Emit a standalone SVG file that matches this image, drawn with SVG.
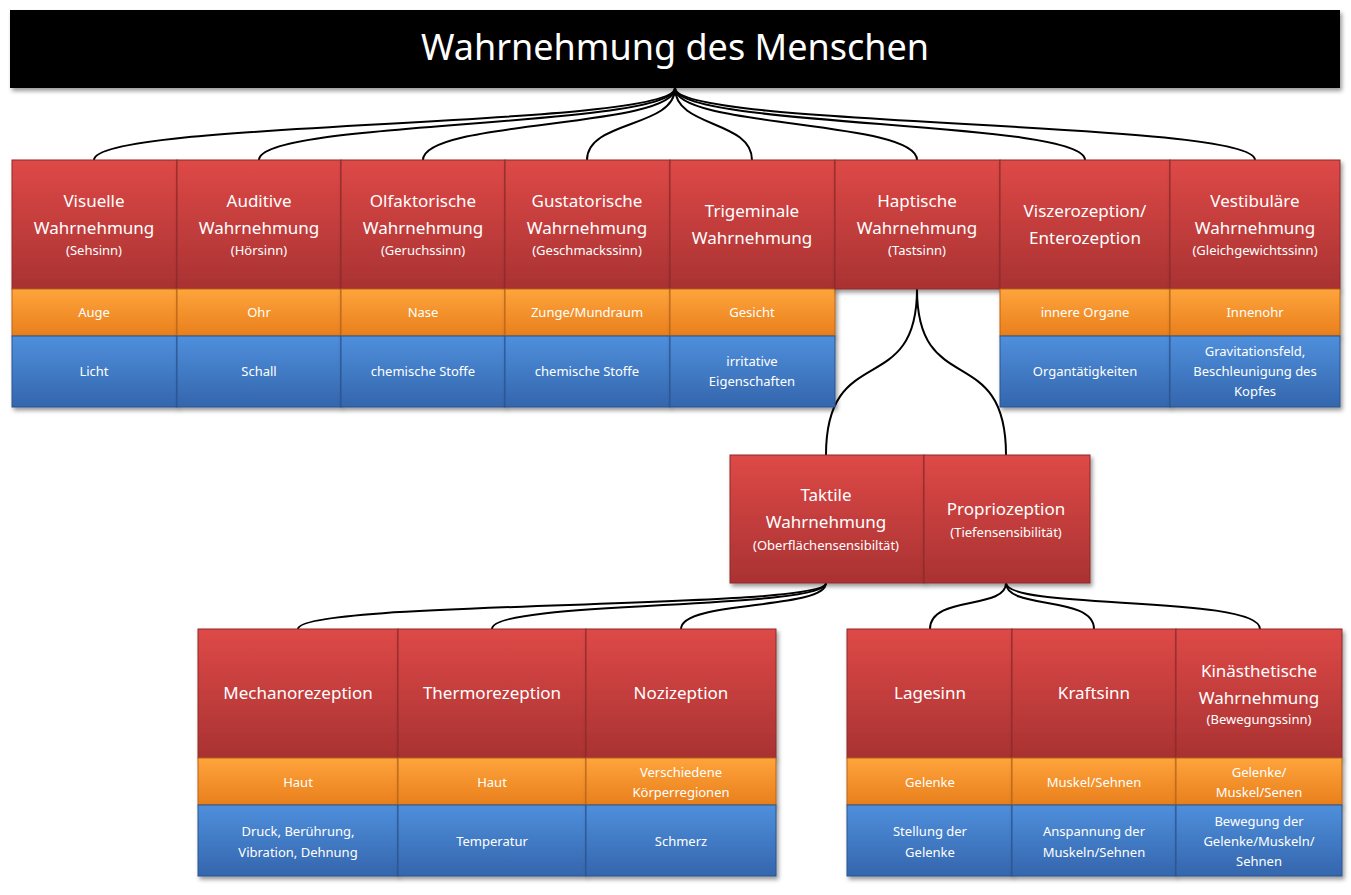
<svg xmlns="http://www.w3.org/2000/svg" width="1351" height="895" viewBox="0 0 1351 895">
<defs>
<linearGradient id="gr" x1="0" y1="0" x2="0" y2="1"><stop offset="0" stop-color="#de4947"/><stop offset="1" stop-color="#a93232"/></linearGradient>
<linearGradient id="go" x1="0" y1="0" x2="0" y2="1"><stop offset="0" stop-color="#ffa43c"/><stop offset="1" stop-color="#e87f1c"/></linearGradient>
<linearGradient id="gb" x1="0" y1="0" x2="0" y2="1"><stop offset="0" stop-color="#4f8fdc"/><stop offset="1" stop-color="#3466ad"/></linearGradient>
<filter id="sh" x="-5%" y="-5%" width="115%" height="120%"><feDropShadow dx="2" dy="3" stdDeviation="2" flood-color="#000" flood-opacity="0.4"/></filter>
</defs>
<style>
.r{fill:url(#gr);stroke:#8e2a2a;stroke-width:1;filter:url(#sh)}
.o{fill:url(#go);stroke:#b8651a;stroke-width:1;filter:url(#sh)}
.b{fill:url(#gb);stroke:#2a5490;stroke-width:1;filter:url(#sh)}
text{font-family:"Noto Sans","Open Sans",sans-serif;fill:#fff;text-anchor:middle}
.t{font-size:17px}
.s{font-size:13px}
.c{fill:none;stroke:#000;stroke-width:2}
</style>
<rect x="0" y="0" width="1351" height="895" fill="#fff"/>
<g id="title"><rect x="10" y="10" width="1330" height="78" fill="#000" filter="url(#sh)"/><text x="675" y="60" style="font-size:36px">Wahrnehmung des Menschen</text></g>
<g id="connectors">
<path class="c" d="M675,88 C675,128 94,120 94,160"/>
<path class="c" d="M675,88 C675,128 259,120 259,160"/>
<path class="c" d="M675,88 C675,128 423,120 423,160"/>
<path class="c" d="M675,88 C675,128 587,120 587,160"/>
<path class="c" d="M675,88 C675,128 752,120 752,160"/>
<path class="c" d="M675,88 C675,128 917,120 917,160"/>
<path class="c" d="M675,88 C675,128 1085,120 1085,160"/>
<path class="c" d="M675,88 C675,128 1255,120 1255,160"/>
<path class="c" d="M917,289 C917,400 826,340 826,455"/>
<path class="c" d="M917,289 C917,400 1006,340 1006,455"/>
<path class="c" d="M826,583 C826,610 298,600 298,629"/>
<path class="c" d="M826,583 C826,610 492,600 492,629"/>
<path class="c" d="M826,583 C826,610 681,600 681,629"/>
<path class="c" d="M1006,583 C1006,610 930,595 930,629"/>
<path class="c" d="M1006,583 C1006,610 1094,595 1094,629"/>
<path class="c" d="M1006,583 C1006,610 1260,595 1260,629"/>
</g>
<g id="n1"><rect class="r" x="12" y="160" width="165" height="129"/><text class="t" x="94" y="207">Visuelle</text><text class="t" x="94" y="234">Wahrnehmung</text><text class="s" x="94" y="255">(Sehsinn)</text><rect class="o" x="12" y="289" width="165" height="47"/><text class="s" x="94" y="317">Auge</text><rect class="b" x="12" y="336" width="165" height="71"/><text class="s" x="94" y="376">Licht</text></g>
<g id="n2"><rect class="r" x="177" y="160" width="164" height="129"/><text class="t" x="259" y="207">Auditive</text><text class="t" x="259" y="234">Wahrnehmung</text><text class="s" x="259" y="255">(Hörsinn)</text><rect class="o" x="177" y="289" width="164" height="47"/><text class="s" x="259" y="317">Ohr</text><rect class="b" x="177" y="336" width="164" height="71"/><text class="s" x="259" y="376">Schall</text></g>
<g id="n3"><rect class="r" x="341" y="160" width="164" height="129"/><text class="t" x="423" y="207">Olfaktorische</text><text class="t" x="423" y="234">Wahrnehmung</text><text class="s" x="423" y="255">(Geruchssinn)</text><rect class="o" x="341" y="289" width="164" height="47"/><text class="s" x="423" y="317">Nase</text><rect class="b" x="341" y="336" width="164" height="71"/><text class="s" x="423" y="376">chemische Stoffe</text></g>
<g id="n4"><rect class="r" x="505" y="160" width="165" height="129"/><text class="t" x="587" y="207">Gustatorische</text><text class="t" x="587" y="234">Wahrnehmung</text><text class="s" x="587" y="255">(Geschmackssinn)</text><rect class="o" x="505" y="289" width="165" height="47"/><text class="s" x="587" y="317">Zunge/Mundraum</text><rect class="b" x="505" y="336" width="165" height="71"/><text class="s" x="587" y="376">chemische Stoffe</text></g>
<g id="n5"><rect class="r" x="670" y="160" width="165" height="129"/><text class="t" x="752" y="217">Trigeminale</text><text class="t" x="752" y="244">Wahrnehmung</text><rect class="o" x="670" y="289" width="165" height="47"/><text class="s" x="752" y="317">Gesicht</text><rect class="b" x="670" y="336" width="165" height="71"/><text class="s" x="752" y="366">irritative</text><text class="s" x="752" y="386">Eigenschaften</text></g>
<g id="n6"><rect class="r" x="835" y="160" width="165" height="129"/><text class="t" x="917" y="207">Haptische</text><text class="t" x="917" y="234">Wahrnehmung</text><text class="s" x="917" y="255">(Tastsinn)</text></g>
<g id="n7"><rect class="r" x="1000" y="160" width="170" height="129"/><text class="t" x="1085" y="217">Viszerozeption/</text><text class="t" x="1085" y="244">Enterozeption</text><rect class="o" x="1000" y="289" width="170" height="47"/><text class="s" x="1085" y="317">innere Organe</text><rect class="b" x="1000" y="336" width="170" height="71"/><text class="s" x="1085" y="376">Organtätigkeiten</text></g>
<g id="n8"><rect class="r" x="1170" y="160" width="170" height="129"/><text class="t" x="1255" y="207">Vestibuläre</text><text class="t" x="1255" y="234">Wahrnehmung</text><text class="s" x="1255" y="255">(Gleichgewichtssinn)</text><rect class="o" x="1170" y="289" width="170" height="47"/><text class="s" x="1255" y="317">Innenohr</text><rect class="b" x="1170" y="336" width="170" height="71"/><text class="s" x="1255" y="356">Gravitationsfeld,</text><text class="s" x="1255" y="376">Beschleunigung des</text><text class="s" x="1255" y="396">Kopfes</text></g>
<g id="n9"><rect class="r" x="730" y="455" width="194" height="128"/><text class="t" x="826" y="501">Taktile</text><text class="t" x="826" y="528">Wahrnehmung</text><text class="s" x="826" y="550">(Oberflächensensibiltät)</text></g>
<g id="n10"><rect class="r" x="924" y="455" width="166" height="128"/><text class="t" x="1006" y="515">Propriozeption</text><text class="s" x="1006" y="537">(Tiefensensibilität)</text></g>
<g id="n11"><rect class="r" x="198" y="629" width="200" height="129"/><text class="t" x="298" y="699">Mechanorezeption</text><rect class="o" x="198" y="758" width="200" height="47"/><text class="s" x="298" y="787">Haut</text><rect class="b" x="198" y="805" width="200" height="71"/><text class="s" x="298" y="836">Druck, Berührung,</text><text class="s" x="298" y="857">Vibration, Dehnung</text></g>
<g id="n12"><rect class="r" x="398" y="629" width="188" height="129"/><text class="t" x="492" y="699">Thermorezeption</text><rect class="o" x="398" y="758" width="188" height="47"/><text class="s" x="492" y="787">Haut</text><rect class="b" x="398" y="805" width="188" height="71"/><text class="s" x="492" y="846">Temperatur</text></g>
<g id="n13"><rect class="r" x="586" y="629" width="190" height="129"/><text class="t" x="681" y="699">Nozizeption</text><rect class="o" x="586" y="758" width="190" height="47"/><text class="s" x="681" y="777">Verschiedene</text><text class="s" x="681" y="797">Körperregionen</text><rect class="b" x="586" y="805" width="190" height="71"/><text class="s" x="681" y="846">Schmerz</text></g>
<g id="n14"><rect class="r" x="847" y="629" width="165" height="129"/><text class="t" x="930" y="699">Lagesinn</text><rect class="o" x="847" y="758" width="165" height="47"/><text class="s" x="930" y="787">Gelenke</text><rect class="b" x="847" y="805" width="165" height="71"/><text class="s" x="930" y="836">Stellung der</text><text class="s" x="930" y="857">Gelenke</text></g>
<g id="n15"><rect class="r" x="1012" y="629" width="164" height="129"/><text class="t" x="1094" y="699">Kraftsinn</text><rect class="o" x="1012" y="758" width="164" height="47"/><text class="s" x="1094" y="787">Muskel/Sehnen</text><rect class="b" x="1012" y="805" width="164" height="71"/><text class="s" x="1094" y="836">Anspannung der</text><text class="s" x="1094" y="857">Muskeln/Sehnen</text></g>
<g id="n16"><rect class="r" x="1176" y="629" width="166" height="129"/><text class="t" x="1259" y="677">Kinästhetische</text><text class="t" x="1259" y="704">Wahrnehmung</text><text class="s" x="1259" y="724">(Bewegungssinn)</text><rect class="o" x="1176" y="758" width="166" height="47"/><text class="s" x="1259" y="777">Gelenke/</text><text class="s" x="1259" y="797">Muskel/Senen</text><rect class="b" x="1176" y="805" width="166" height="71"/><text class="s" x="1259" y="826">Bewegung der</text><text class="s" x="1259" y="846">Gelenke/Muskeln/</text><text class="s" x="1259" y="866">Sehnen</text></g>
</svg>
